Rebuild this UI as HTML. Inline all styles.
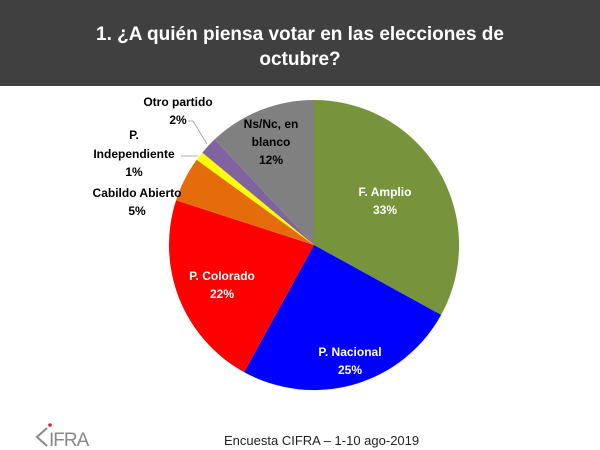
<!DOCTYPE html>
<html><head><meta charset="utf-8"><style>
body{margin:0;width:600px;height:450px;background:#fff;overflow:hidden;font-family:"Liberation Sans",sans-serif}
.hd{position:absolute;left:0;top:0;width:600px;height:86px;background:#404040;color:#fff;font-weight:bold;font-size:19px;text-align:center;line-height:25px;padding-top:22px;box-sizing:border-box}
</style></head><body>
<div class="hd">1. ¿A quién piensa votar en las elecciones de<br>octubre?</div>
<svg width="600" height="450" style="position:absolute;left:0;top:0" font-family="Liberation Sans, sans-serif" font-weight="bold" font-size="12">
<g stroke="none">
<path d="M314,245 L314,100 A145,145 0 0 1 441.1,314.9 Z" fill="#77933c"/>
<path d="M314,245 L441.1,314.9 A145,145 0 0 1 244.1,372.1 Z" fill="#0000ff"/>
<path d="M314,245 L244.1,372.1 A145,145 0 0 1 176.1,200.2 Z" fill="#ff0000"/>
<path d="M314,245 L176.1,200.2 A145,145 0 0 1 196.7,159.8 Z" fill="#e46c0a"/>
<path d="M314,245 L196.7,159.8 A145,145 0 0 1 202.3,152.6 Z" fill="#ffff00"/>
<path d="M314,245 L202.3,152.6 A145,145 0 0 1 214.7,139.3 Z" fill="#8064a2"/>
<path d="M314,245 L214.7,139.3 A145,145 0 0 1 314,100 Z" fill="#808080"/>
</g>
<g fill="none" stroke="#999" stroke-width="0.8">
<polyline points="188,121 193,121 207,144"/>
<polyline points="181,156 198,156"/>
</g>
<g text-anchor="middle" fill="#fff">
<text x="385" y="196">F. Amplio</text><text x="385" y="214">33%</text>
<text x="350" y="356">P. Nacional</text><text x="350" y="374">25%</text>
<text x="222" y="280">P. Colorado</text><text x="222" y="298">22%</text>
</g>
<g text-anchor="middle" fill="#000">
<text x="271" y="128">Ns/Nc, en</text><text x="271" y="146">blanco</text><text x="271" y="164">12%</text>
<text x="178" y="106">Otro partido</text><text x="178" y="124">2%</text>
<text x="134" y="139">P.</text><text x="134" y="158">Independiente</text><text x="134" y="176">1%</text>
<text x="137" y="197">Cabildo Abierto</text><text x="137" y="215">5%</text>
</g>
<g font-weight="normal">
<text x="224" y="445" font-size="13" fill="#222">Encuesta CIFRA – 1-10 ago-2019</text>
<polyline points="47,428 37,437 47,446" fill="none" stroke="#888" stroke-width="2"/>
<text x="49" y="446" font-size="19" fill="#888" letter-spacing="-1">IFRA</text>
<circle cx="50" cy="425" r="1.8" fill="#e02020"/>
</g>
</svg>
</body></html>
